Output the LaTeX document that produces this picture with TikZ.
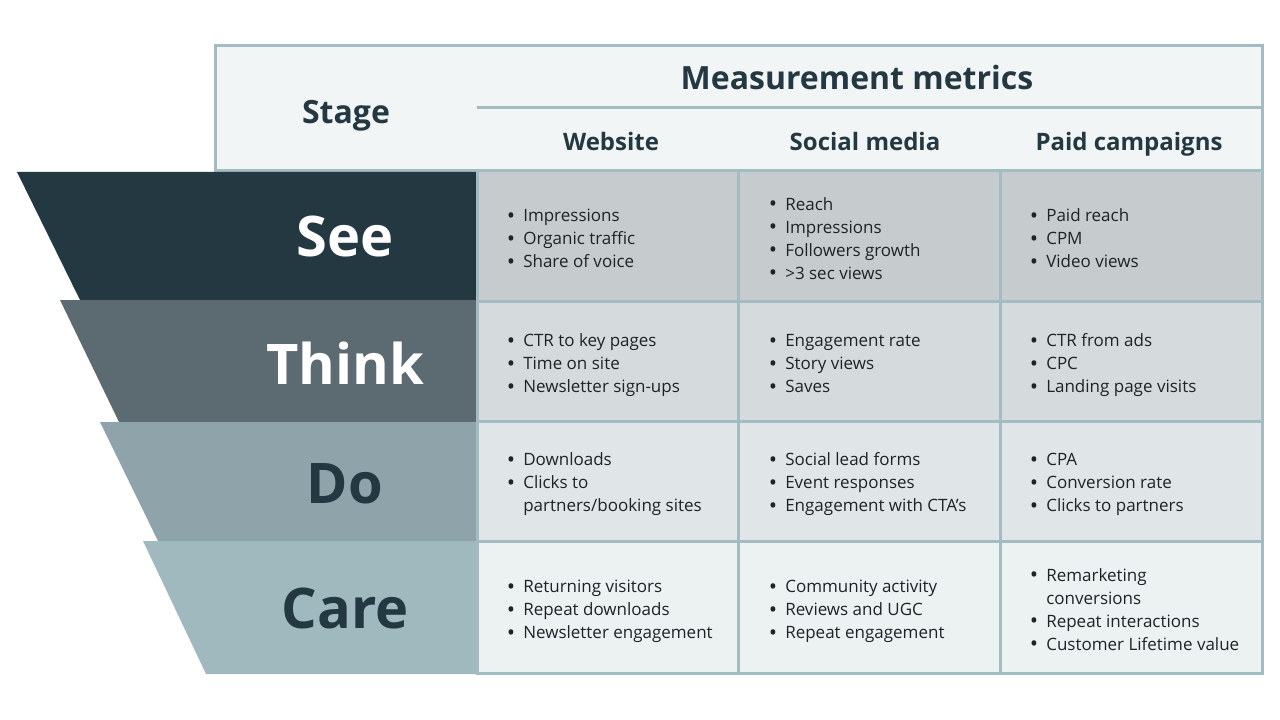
\documentclass[tikz,border=0pt]{standalone}
\usepackage{fontspec}
\setmainfont{Open Sans}
\usetikzlibrary{positioning}
\definecolor{inkdark}{HTML}{243842}
\definecolor{bandthink}{HTML}{5C6A71}
\definecolor{banddo}{HTML}{8FA3AA}
\definecolor{bandcare}{HTML}{A0B9BF}
\definecolor{gridc}{HTML}{A3BCC2}
\definecolor{headfill}{HTML}{F2F5F6}
\definecolor{rowsee}{HTML}{C6CBCE}
\definecolor{rowthink}{HTML}{D5DADC}
\definecolor{rowdo}{HTML}{E0E5E8}
\definecolor{rowcare}{HTML}{ECF1F2}
\definecolor{bodytext}{HTML}{1F2326}
\newcommand{\metriclist}[1]{\begin{tabular}{@{}l@{}l@{}}#1\end{tabular}}
\newcommand{\itm}{\makebox[12.75pt][l]{\hspace{0.5pt}\raisebox{-1.1pt}{\scalebox{1.3}{\textbullet}}}&}

\begin{document}
\begin{tikzpicture}[x=0.75pt,y=-0.75pt,
  gridline/.style={draw=gridc,line width=2.25pt},
  stagelabel/.style={font=\fontsize{42}{48}\selectfont\bfseries,inner sep=0pt},
  headlabel/.style={anchor=base,font=\fontsize{24}{28}\selectfont\bfseries,text=inkdark,inner sep=0pt},
  collabel/.style={anchor=base,font=\fontsize{18}{21}\selectfont\bfseries,text=inkdark,inner sep=0pt},
  metric/.style={anchor=west,inner sep=0pt,text=bodytext,font=\fontsize{12.75}{17.25}\selectfont}]
\useasboundingbox (0,0) rectangle (1280,720);

% header box
\filldraw[gridline,fill=headfill] (215,46) rectangle (1262,171);
\draw[gridline] (477,108) -- (1262,108);
\node[headlabel] (stage) at (346,124) {Stage};
\node[headlabel] (metrics) at (857,90) {Measurement metrics};
\node[collabel] (web) at (611,151) {Website};
\node[collabel] (social) at (865,151) {Social media};
\node[collabel] (paid) at (1129,151) {Paid campaigns};

% funnel bands
\fill[inkdark] (17,172) -- (477,172) -- (477,300) -- (80,300) -- cycle;
\fill[bandthink] (60,300) -- (477,300) -- (477,422) -- (119,422) -- cycle;
\fill[banddo] (100,422) -- (477,422) -- (477,541) -- (158,541) -- cycle;
\fill[bandcare] (143,541) -- (477,541) -- (477,674) -- (206,674) -- cycle;
\node[stagelabel,text=white] (see) at (345,236) {See};
\node[stagelabel,text=white] (think) at (345,363) {Think};
\node[stagelabel,text=inkdark] (do) at (345,484) {Do};
\node[stagelabel,text=inkdark] (care) at (345,608) {Care};

% cells
\fill[rowsee] (477,171) rectangle (1262,301);
\fill[rowthink] (477,301) rectangle (1262,421);
\fill[rowdo] (477,421) rectangle (1262,541);
\fill[rowcare] (477,541) rectangle (1262,673);
\draw[gridline] (477,171) rectangle (1262,673);
\draw[gridline] (738,171) -- (738,673);
\draw[gridline] (1000,171) -- (1000,673);
\draw[gridline] (477,301) -- (1262,301);
\draw[gridline] (477,421) -- (1262,421);
\draw[gridline] (477,541) -- (1262,541);

% see row
\node[metric] (seeweb) at (506,240) {\metriclist{\itm Impressions\\ \itm Organic traffic\\ \itm Share of voice}};
\node[metric] (seesocial) at (768,240) {\metriclist{\itm Reach\\ \itm Impressions\\ \itm Followers growth\\ \itm >3 sec views}};
\node[metric] (seepaid) at (1029,240) {\metriclist{\itm Paid reach\\ \itm CPM\\ \itm Video views}};
% think row
\node[metric] (thinkweb) at (506,365) {\metriclist{\itm CTR to key pages\\ \itm Time on site\\ \itm Newsletter sign-ups}};
\node[metric] (thinksocial) at (768,365) {\metriclist{\itm Engagement rate\\ \itm Story views\\ \itm Saves}};
\node[metric] (thinkpaid) at (1029,365) {\metriclist{\itm CTR from ads\\ \itm CPC\\ \itm Landing page visits}};
% do row
\node[metric] (doweb) at (506,484) {\metriclist{\itm Downloads\\ \itm Clicks to\\ & partners/booking sites}};
\node[metric] (dosocial) at (768,484) {\metriclist{\itm Social lead forms\\ \itm Event responses\\ \itm Engagement with CTA's}};
\node[metric] (dopaid) at (1029,484) {\metriclist{\itm CPA\\ \itm Conversion rate\\ \itm Clicks to partners}};
% care row
\node[metric] (careweb) at (506,611) {\metriclist{\itm Returning visitors\\ \itm Repeat downloads\\ \itm Newsletter engagement}};
\node[metric] (caresocial) at (768,611) {\metriclist{\itm Community activity\\ \itm Reviews and UGC\\ \itm Repeat engagement}};
\node[metric] (carepaid) at (1029,611) {\metriclist{\itm Remarketing\\ & conversions\\ \itm Repeat interactions\\ \itm Customer Lifetime value}};
\end{tikzpicture}
\end{document}
